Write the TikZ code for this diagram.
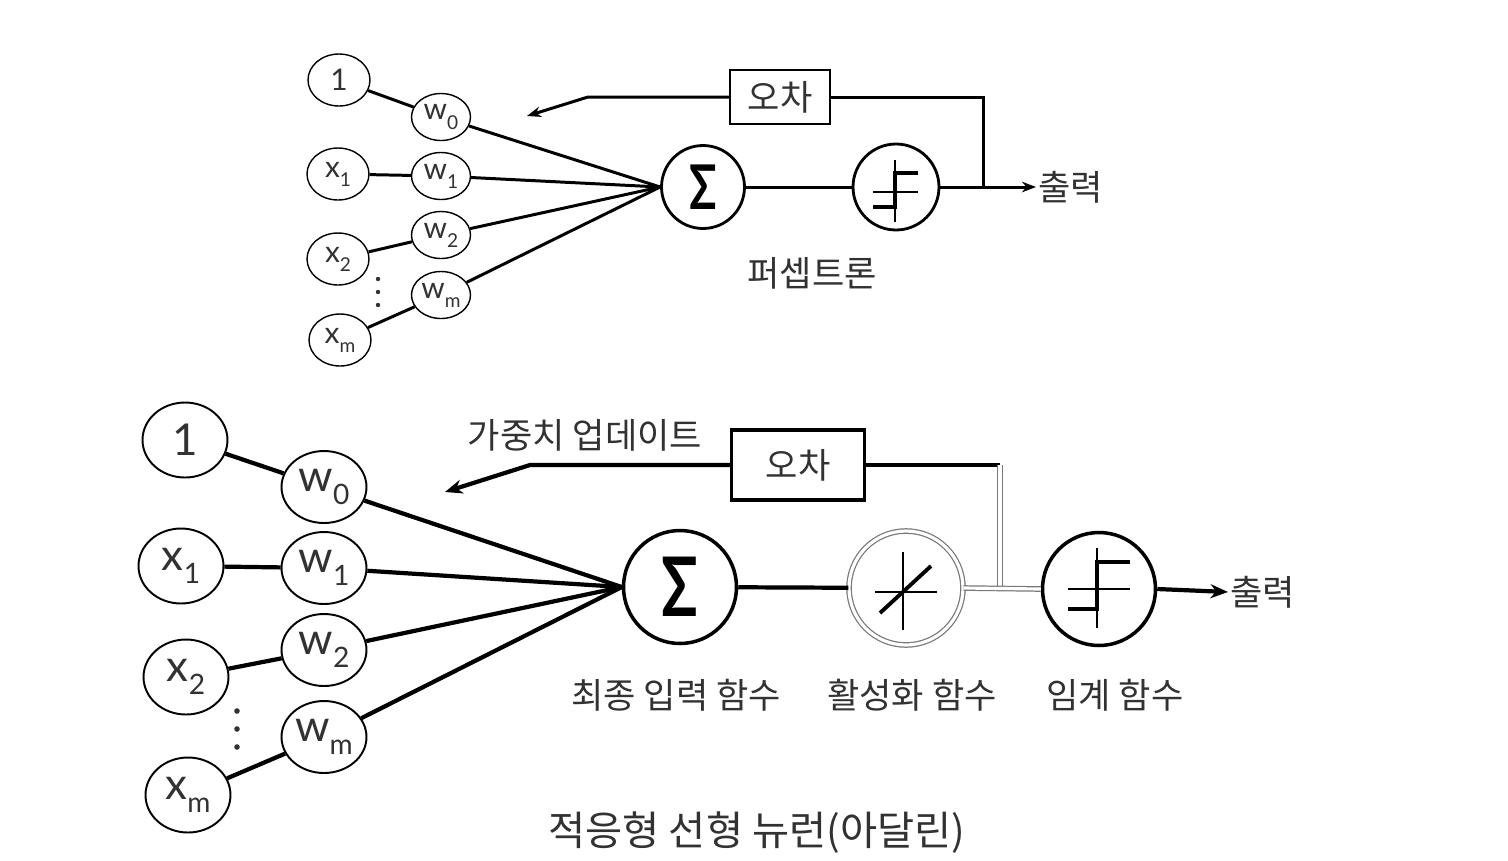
\documentclass[tikz,border=0pt]{standalone}
\usepackage{fontspec}
\setmainfont{Noto Sans CJK KR}
\newfontfamily\latf{Lato}
\usetikzlibrary{arrows.meta,positioning,shapes.geometric}
\definecolor{txtgray}{RGB}{50,50,50}
\definecolor{dblgray}{RGB}{120,120,120}
\newcommand{\ko}{\fontsize{20}{23}\selectfont}
\newcommand{\sbs}[1]{\raisebox{-0.6ex}{\scalebox{0.64}{#1}}}
\newcommand{\sigm}[1]{\fontsize{#1}{#1}\selectfont\scalebox{0.95}[1.3]{\bfseries Σ}}

\begin{document}
\begin{tikzpicture}[x=0.02cm,y=-0.02cm,
  inpT/.style={ellipse,draw,line width=0.8pt,minimum width=1.24cm,minimum height=1.04cm,
    inner sep=0pt,text=txtgray,font=\latf\fontsize{17}{17}\selectfont},
  wgtT/.style={inpT,minimum width=1.18cm,minimum height=0.94cm},
  inpB/.style={ellipse,draw,line width=1.1pt,minimum width=1.7cm,minimum height=1.5cm,
    inner sep=0pt,text=txtgray,font=\latf\fontsize{25}{25}\selectfont},
  wgtB/.style={inpB,minimum height=1.44cm},
  sumT/.style={circle,draw,line width=1.6pt,minimum size=1.66cm,inner sep=0pt,font=\latf},
  sumB/.style={circle,draw,line width=2pt,minimum size=2.26cm,inner sep=0pt,font=\latf},
  dbl/.style={draw=dblgray,double=white,double distance=1.8pt,line width=0.7pt},
  actB/.style={circle,dbl,minimum size=2.28cm,inner sep=0pt},
  errT/.style={draw,line width=1.3pt,minimum width=2cm,minimum height=1.08cm,
    inner sep=0pt,text=txtgray,font=\ko},
  errB/.style={draw,line width=2pt,minimum width=2.66cm,minimum height=1.4cm,
    inner sep=0pt,text=txtgray,font=\ko},
  lbl/.style={inner sep=1pt,text=txtgray,font=\ko},
  linkT/.style={line width=1.7pt},
  linkB/.style={line width=2.4pt},
  thin/.style={line width=0.9pt},
  thick step/.style={line width=2.2pt}
]
\useasboundingbox (0,0) rectangle (1508,860);

% ---------------- perceptron ----------------
\node[inpT] (i0t) at (339,80)  {1};
\node[wgtT] (w0t) at (441,117) {w\sbs{0}};
\node[inpT] (x1t) at (338,174) {x\sbs{1}};
\node[wgtT] (w1t) at (441,176) {w\sbs{1}};
\node[inpT] (x2t) at (338,259) {x\sbs{2}};
\node[wgtT] (w2t) at (441,235) {w\sbs{2}};
\node[inpT] (xmt) at (340,340) {x\sbs{m}};
\node[wgtT] (wmt) at (441,295) {w\sbs{m}};
\foreach \y in {279,292,305}
  \fill[txtgray] (378,\y) circle (2.2);

\node[sumT] (sumt) at (703,187) {\sigm{27}};
\node[sumT,minimum size=1.72cm] (stept) at (896,187) {};
\node[errT] (errt) at (780,97) {오차};
\node[lbl,anchor=west] (outt) at (1036,187) {출력};
\node[lbl] (namet) at (812,273) {퍼셉트론};

\foreach \a/\b in {i0t/w0t,x1t/w1t,x2t/w2t,xmt/wmt}
  \draw[linkT] (\a) -- (\b);
\foreach \w in {w0t,w1t,w2t,wmt}
  \draw[linkT] (\w) -- (sumt.west);
\draw[linkT] (sumt) -- (stept);
\draw[linkT,-{Stealth[length=8pt,width=6pt]}] (stept.east) -- (outt.west);

% error feedback
\coordinate (fbt) at (983,97);
\coordinate (bendt) at (588,97);
\coordinate (tipt) at (527,116);
\draw[linkT] (errt.east) -- (fbt) -- (fbt |- stept.east);
\draw[linkT,-{Stealth[length=8pt,width=6pt]}] (errt.west) -- (bendt) -- (tipt);

% step symbol
\begin{scope}[shift={(stept.center)}]
  \draw[thin] (-1,-27) -- (-1,35);
  \draw[thin] (-23,5) -- (22,5);
  \draw[thick step] (-23,20) -- (-1,20) -- (-1,-14) -- (22,-14);
\end{scope}

% ---------------- adaline ----------------
\node[inpB] (i0b) at (185,440) {1};
\node[wgtB] (w0b) at (324,487) {w\sbs{0}};
\node[inpB] (x1b) at (181,566) {x\sbs{1}};
\node[wgtB] (w1b) at (324,568) {w\sbs{1}};
\node[inpB] (x2b) at (186,677) {x\sbs{2}};
\node[wgtB] (w2b) at (324,650) {w\sbs{2}};
\node[inpB] (xmb) at (188,795) {x\sbs{m}};
\node[wgtB] (wmb) at (324,737) {w\sbs{m}};
\foreach \y in {711,729,747}
  \fill[txtgray] (237,\y) circle (2.8);

\node[sumB] (sumb) at (680,587) {\sigm{36}};
\node[actB] (act) at (906,588) {};
\node[sumB] (thr) at (1099,589) {};
\node[errB] (errb) at (798,465) {오차};
\node[lbl,anchor=west] (outb) at (1228,592) {출력};
\node[lbl] (upd) at (585,435) {가중치 업데이트};

\foreach \a/\b in {i0b/w0b,x1b/w1b,x2b/w2b,xmb/wmb}
  \draw[linkB] (\a) -- (\b);
\foreach \w in {w0b,w1b,w2b,wmb}
  \draw[linkB] (\w) -- (sumb.west);
\draw[linkB] (sumb) -- (act);
\draw[linkB,-{Stealth[length=10pt,width=8pt]}] (thr.east) -- (outb.west);

% error feedback
\coordinate (fbb) at (1000,465);
\coordinate (bendb) at (530,465);
\coordinate (tipb) at (445,492);
\draw[linkB] (errb.east) -- (fbb);
\draw[dbl] (fbb) -- (fbb |- thr.west);
\draw[dbl] (act.east) -- (thr.west);
\draw[linkB,-{Stealth[length=10pt,width=8pt]}] (errb.west) -- (bendb) -- (tipb);

% linear activation symbol
\begin{scope}[shift={(act.center)}]
  \draw[thin] (-3,-36) -- (-3,42);
  \draw[thin] (-31,4) -- (31,4);
  \draw[thick step] (-26,25) -- (25,-22);
\end{scope}

% threshold symbol
\begin{scope}[shift={(thr.center)}]
  \draw[thin] (-2,-41) -- (-2,39);
  \draw[thin] (-31,0) -- (31,0);
  \draw[thick step] (-31,20) -- (-2,20) -- (-2,-27) -- (31,-27);
\end{scope}

\node[lbl] (fnsum) at (676,695) {최종 입력 함수};
\node[lbl] (fnact) at (912,695) {활성화 함수};
\node[lbl] (fnthr) at (1115,695) {임계 함수};
\node[lbl,font=\fontsize{23}{26}\selectfont] (nameb) at (757,833) {적응형 선형 뉴런(아달린)};
\end{tikzpicture}
\end{document}
